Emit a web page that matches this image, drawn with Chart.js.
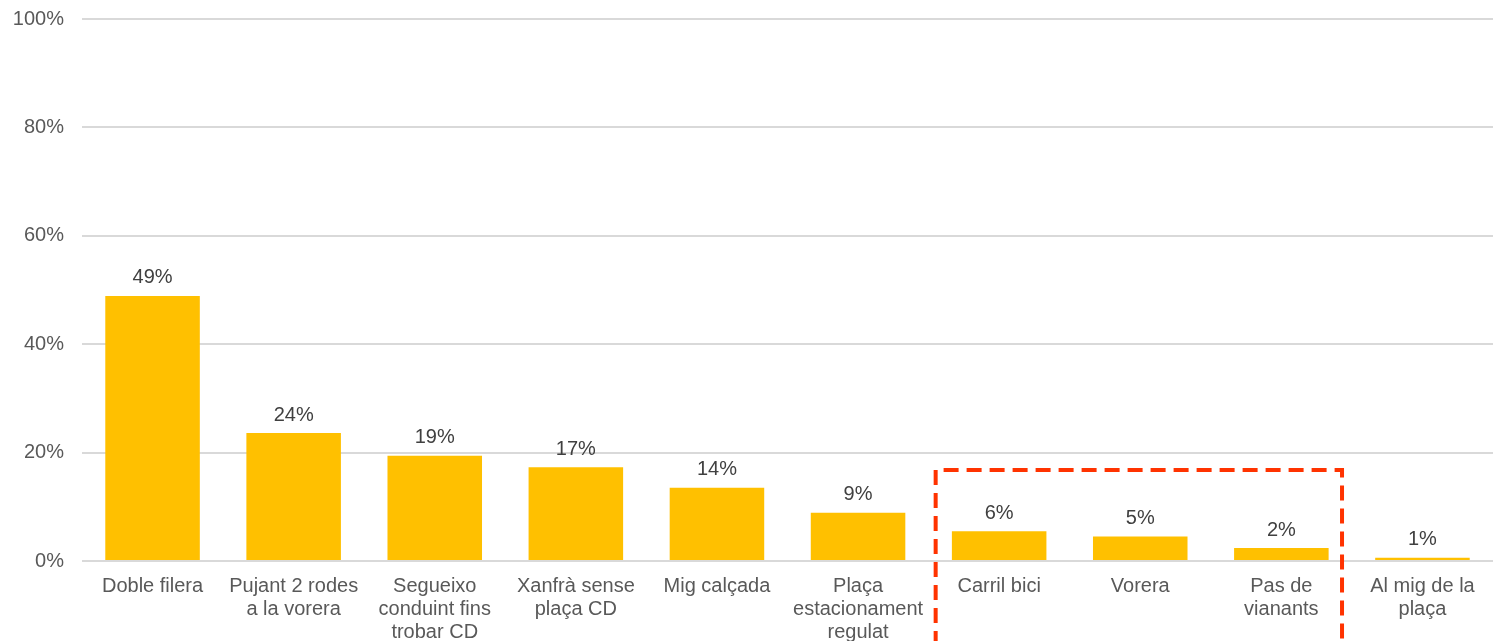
<!DOCTYPE html>
<html>
<head>
<meta charset="utf-8">
<script src="https://cdn.jsdelivr.net/npm/chart.js@4"></script>
<style>
  html, body { margin: 0; padding: 0; background: #fff; }
  #wrap { width: 1493px; height: 641px; }
</style>
</head>
<body>
<div id="wrap"><canvas id="grafic"></canvas></div>
<script>
// Llocs on s'aparca (percentatge)
const categories = [
    'Doble filera',
    ['Pujant 2 rodes', 'a la vorera'],
    ['Segueixo', 'conduint fins', 'trobar CD'],
    ['Xanfrà sense', 'plaça CD'],
    'Mig calçada',
    ['Plaça', 'estacionament', 'regulat'],
    'Carril bici',
    'Vorera',
    ['Pas de', 'vianants'],
    ['Al mig de la', 'plaça']
];
const valors = [48.9, 23.6, 19.4, 17.3, 13.5, 8.9, 5.5, 4.5, 2.4, 0.6];
const ticksY = [0, 20, 40, 60, 80, 100];

// grup destacat amb el requadre vermell
const destacats = [6, 8];   // primer i últim índex
const altDestacat = 16.8;   // fins on arriba el requadre (%)

const font = 'Liberation Sans, Arial, sans-serif';

const etiquetes = {
    id: 'etiquetes',
    afterDatasetsDraw(chart) {
        const ctx = chart.ctx;
        const meta = chart.getDatasetMeta(0);
        ctx.save();
        ctx.font = '20px ' + font;
        ctx.fillStyle = '#404040';
        ctx.textAlign = 'center';
        ctx.textBaseline = 'bottom';
        meta.data.forEach((bar, i) => {
            ctx.fillText(Math.round(valors[i]) + '%', bar.x, bar.y - 8);
        });
        ctx.restore();
    }
};

const requadre = {
    id: 'requadre',
    afterDraw(chart) {
        const x = chart.scales.x, y = chart.scales.y;
        const pas = x.getPixelForValue(1) - x.getPixelForValue(0);
        const esq = x.getPixelForValue(destacats[0]) - pas * 0.45;
        const dre = x.getPixelForValue(destacats[1]) + pas * 0.43;
        const dalt = y.getPixelForValue(altDestacat);
        const ctx = chart.ctx;
        ctx.save();
        ctx.strokeStyle = '#ff3300';
        ctx.lineWidth = 4;
        ctx.setLineDash([15, 8]);
        ctx.beginPath();
        ctx.moveTo(esq, chart.height + 5);
        ctx.lineTo(esq, dalt);
        ctx.lineTo(dre, dalt);
        ctx.lineTo(dre, chart.height + 5);
        ctx.stroke();
        ctx.restore();
    }
};

new Chart(document.getElementById('grafic'), {
    type: 'bar',
    data: {
        labels: categories,
        datasets: [{
            data: valors,
            backgroundColor: '#ffc000',
            barPercentage: 0.67,
            categoryPercentage: 1
        }]
    },
    options: {
        responsive: true,
        maintainAspectRatio: false,
        animation: false,
        layout: { padding: { top: 19, right: 0, left: 0, bottom: 0 } },
        plugins: {
            legend: { display: false },
            tooltip: { enabled: false }
        },
        scales: {
            x: {
                grid: { display: false },
                border: { display: false },
                ticks: {
                    color: '#595959',
                    font: { family: font, size: 20, lineHeight: 1.15 },
                    maxRotation: 0,
                    autoSkip: false,
                    padding: 6
                },
                afterFit(scale) { scale.height = 80; }
            },
            y: {
                min: 0,
                max: 100,
                afterBuildTicks(scale) { scale.ticks = ticksY.map(v => ({ value: v })); },
                grid: { color: '#d9d9d9', lineWidth: 2, drawTicks: false },
                border: { display: false },
                ticks: {
                    color: '#595959',
                    font: { family: font, size: 20 },
                    padding: 18,
                    callback: v => v + '%'
                },
                afterFit(scale) {
                    scale.width = 82;
                    scale.paddingTop = 0;
                    scale.paddingBottom = 0;
                }
            }
        }
    },
    plugins: [etiquetes, requadre]
});
</script>
</body>
</html>
